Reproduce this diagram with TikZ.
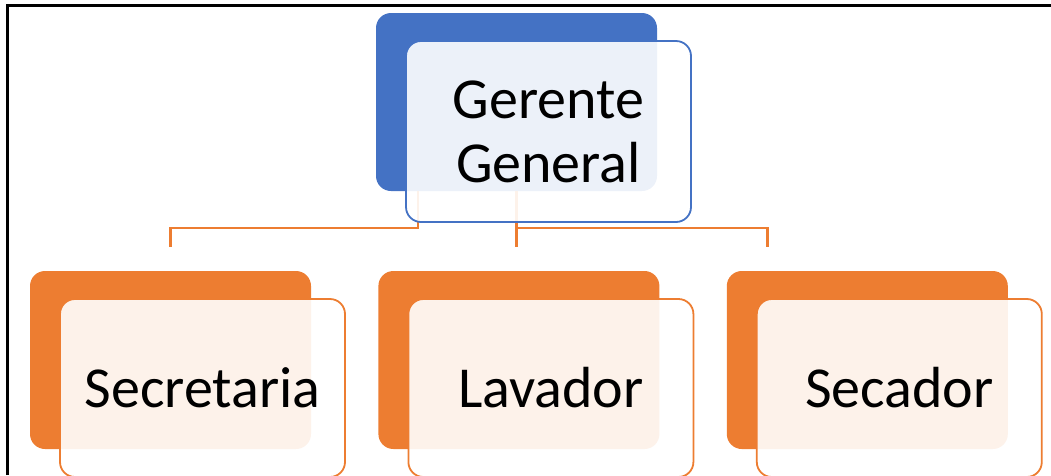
\documentclass[tikz,border=0pt]{standalone}
\usepackage{fontspec}
\setmainfont{Carlito}
\usetikzlibrary{positioning}
\definecolor{accblue}{HTML}{4472C4}
\definecolor{accorange}{HTML}{ED7D31}

\begin{document}
\begin{tikzpicture}[x=1pt, y=-1pt,
  back/.style={rounded corners=15pt, minimum width=281pt, minimum height=178pt, inner sep=0pt},
  front/.style={draw, line width=1.8pt, rounded corners=15pt, fill=white, fill opacity=0.9,
    text opacity=1, minimum width=285pt, inner sep=0pt, align=center,
    font=\fontsize{58}{64}\selectfont},
  conn/.style={accorange, line width=2.4pt}]
  \useasboundingbox (0,0) rectangle (1051,475);
  % frame
  \draw[line width=2.5pt] (7.5,475) -- (7.5,5.5) -- (1051,5.5);
  % back plates
  \node[back, fill=accblue] (gback) at (516.5,102) {};
  \node[back, fill=accorange] (secback) at (170.5,360) {};
  \node[back, fill=accorange, right=67pt of secback] (lavback) {};
  \node[back, fill=accorange, right=67pt of lavback] (secaback) {};
  % connectors
  \coordinate (gleft) at ([xshift=42pt]gback.south west);
  \coordinate (dropsec) at ([yshift=24pt]secback.north);
  \coordinate (dropseca) at ([xshift=41pt, yshift=24pt]secaback.north west);
  \draw[conn] (gleft) -- ++(0,37) -| (dropsec);
  \draw[conn] (gback.south) -- (gback.south |- dropsec);
  \draw[conn] ([yshift=-37pt]gback.south) -| (dropseca);
  % front cards
  \node[front, draw=accblue, minimum height=181pt] (ger)
    at ([shift={(32,29.5)}]gback.center) {Gerente\\General};
  \node[front, draw=accorange, minimum height=178pt] (sec)
    at ([shift={(32,28)}]secback.center) {Secretaria};
  \node[front, draw=accorange, minimum height=178pt] (lav)
    at ([shift={(32,28)}]lavback.center) {Lavador};
  \node[front, draw=accorange, minimum height=178pt] (seca)
    at ([shift={(32,28)}]secaback.center) {Secador};
\end{tikzpicture}
\end{document}
